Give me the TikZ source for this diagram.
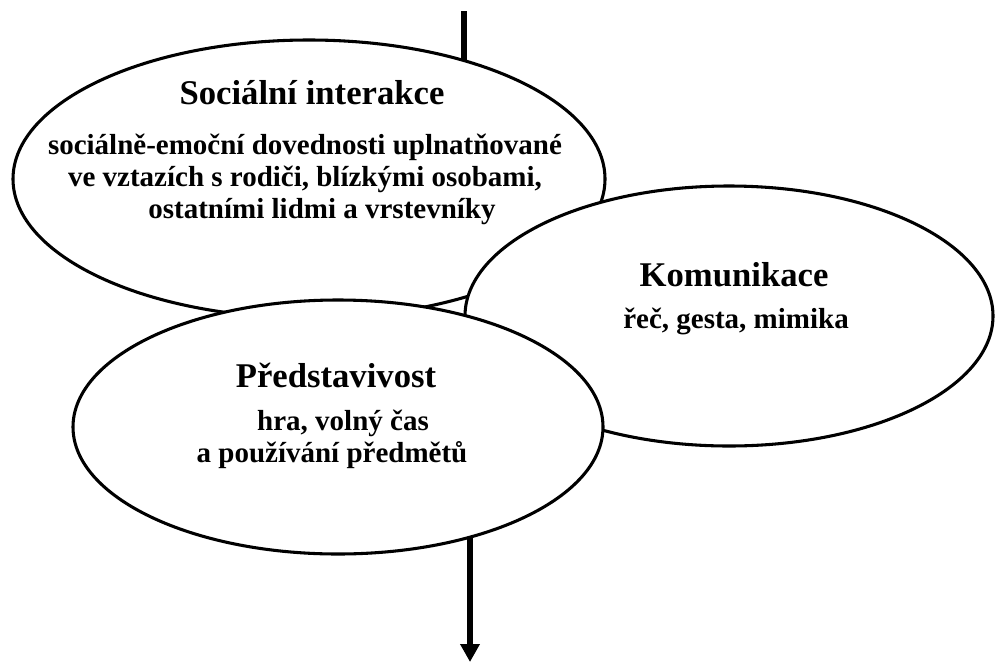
\documentclass[tikz,border=0pt]{standalone}
\usepackage{fontspec}
\setmainfont{Liberation Serif}
\usetikzlibrary{shapes.geometric,arrows.meta,backgrounds}
\begin{document}
\begin{tikzpicture}[x=0.75pt,y=-0.75pt,
  bubble/.style={ellipse,draw,fill=white,line width=2.3pt,inner sep=0pt},
  head/.style={anchor=base,inner sep=0pt,font=\bfseries\fontsize{26}{30}\selectfont},
  body/.style={anchor=base,inner sep=0pt,font=\bfseries\fontsize{21.75}{26}\selectfont},
  axis/.style={line width=4.3pt}]
\useasboundingbox (0,0) rectangle (995,664);
% ellipses
\node[bubble,minimum width=444pt,minimum height=208.5pt] (e1) at (309,179) {};
\node[bubble,minimum width=396pt,minimum height=195pt] (e2) at (729,316) {};
\node[bubble,minimum width=397.5pt,minimum height=190.5pt] (e3) at (338,427) {};
% texts
\node[head] (t1) at (312,104) {Sociální interakce};
\node[body] (t1a) at (305,154) {sociálně-emoční dovednosti uplnatňované};
\node[body] (t1b) at (305,186) {ve vztazích s rodiči, blízkými osobami,};
\node[body] (t1c) at (322,218) {ostatními lidmi a vrstevníky};
\node[head] (t2) at (734,286) {Komunikace};
\node[body] (t2a) at (736,328) {řeč, gesta, mimika};
\node[head] (t3) at (336,387) {Představivost};
\node[body] (t3a) at (343,430) {hra, volný čas};
\node[body] (t3b) at (332,462) {a používání předmětů};
% axis line behind the ellipses
\coordinate (top) at (464,11);
\coordinate (bot) at (470,662);
\begin{scope}[on background layer]
\fill[white] (0,0) rectangle (995,664);
\draw[axis] (top) -- (top |- e1.center);
\draw[axis,-{Triangle[width=14pt,length=13.5pt]}] (bot |- e3.center) -- (bot);
\end{scope}
\end{tikzpicture}
\end{document}
